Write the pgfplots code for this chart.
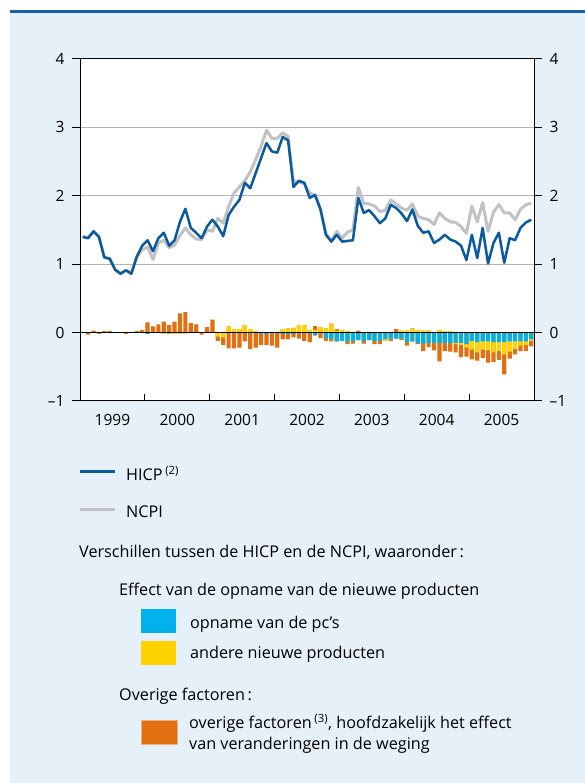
\documentclass[border=0pt]{standalone}
\usepackage{pgfplots}
\pgfplotsset{compat=1.18}
\usepackage{pgfplotstable}
\usepackage{fontspec}
\setmainfont{Open Sans}
\definecolor{bgblue}{HTML}{E6F0F8}
\definecolor{topblue}{HTML}{1B5EA6}
\definecolor{hicp}{HTML}{0B5A9E}
\definecolor{ncpi}{HTML}{C2C2C6}
\definecolor{pcblue}{HTML}{00B1EC}
\definecolor{newyel}{HTML}{FFD300}
\definecolor{othor}{HTML}{E07010}
\definecolor{gridc}{HTML}{B4B4B4}

\pgfplotstableread{
m H N b y o
0 1.40 1.40 0 0 0
1 1.38 1.39 0 0 -0.03
2 1.48 1.48 0 0 0.03
3 1.40 1.40 0 0 -0.02
4 1.10 1.10 0 0 0.02
5 1.08 1.08 0 0 0.02
6 0.92 0.92 0 0 0
7 0.86 0.87 0 0 0
8 0.91 0.91 0 0 -0.02
9 0.86 0.87 0 0 0.01
10 1.11 1.10 0 0 0.02
11 1.27 1.21 0 0 0.04
12 1.35 1.25 -0.02 0 0.15
13 1.19 1.07 0 0 0.09
14 1.38 1.31 0 0 0.12
15 1.46 1.35 0 -0.02 0.16
16 1.27 1.24 -0.01 -0.01 0.11
17 1.35 1.28 0 -0.02 0.16
18 1.62 1.42 0 -0.02 0.28
19 1.81 1.53 0 -0.01 0.30
20 1.53 1.43 0 0 0.14
21 1.46 1.37 0 0 0.12
22 1.38 1.36 0 0 -0.03
23 1.55 1.50 0 0 0.08
24 1.65 1.48 0 0 0.19
25 1.55 1.67 0 -0.06 -0.06
26 1.41 1.60 0 -0.07 -0.11
27 1.72 1.84 0 0.09 -0.23
28 1.84 2.04 0 0.05 -0.23
29 1.94 2.13 0 0.05 -0.22
30 2.19 2.22 0 0.11 -0.13
31 2.11 2.35 0 0.05 -0.24
32 2.33 2.53 0 0.02 -0.22
33 2.55 2.72 -0.02 0 -0.16
34 2.77 2.96 -0.02 0 -0.16
35 2.65 2.84 -0.01 0 -0.18
36 2.63 2.84 0 0.01 -0.22
37 2.86 2.92 -0.02 0.05 -0.08
38 2.81 2.87 -0.02 0.06 -0.08
39 2.13 2.21 -0.02 0.07 -0.05
40 2.22 2.20 0 0.11 -0.09
41 2.19 2.18 0 0.11 -0.12
42 1.97 2.04 -0.02 0.04 -0.12
43 2.01 2.01 -0.04 0.04 0.06
44 1.80 1.80 0 0.08 -0.08
45 1.43 1.45 -0.08 0.06 -0.04
46 1.33 1.34 -0.10 0.13 -0.03
47 1.43 1.48 -0.13 0.03 0.02
48 1.33 1.38 -0.12 0.04 0
49 1.34 1.47 -0.13 0.02 -0.04
50 1.35 1.50 -0.12 0 -0.04
51 1.97 2.12 -0.11 0 0.03
52 1.75 1.89 -0.12 0 -0.04
53 1.79 1.88 -0.11 0.01 0
54 1.70 1.85 -0.12 0 -0.05
55 1.60 1.77 -0.12 0 -0.05
56 1.67 1.79 -0.10 -0.02 0
57 1.87 1.94 -0.09 0.01 -0.03
58 1.82 1.88 -0.09 0 0.05
59 1.74 1.82 -0.09 0.03 -0.02
60 1.63 1.79 -0.14 0.03 -0.05
61 1.80 1.88 -0.13 0.06 0
62 1.56 1.70 -0.15 0.04 -0.02
63 1.46 1.67 -0.17 0.03 -0.10
64 1.48 1.65 -0.15 0.03 -0.06
65 1.31 1.58 -0.15 0 -0.11
66 1.36 1.75 -0.15 0.04 -0.27
67 1.43 1.67 -0.15 0.02 -0.12
68 1.36 1.62 -0.15 0.02 -0.13
69 1.33 1.61 -0.15 -0.02 -0.12
70 1.27 1.55 -0.15 -0.03 -0.18
71 1.06 1.45 -0.17 -0.05 -0.13
72 1.43 1.85 -0.12 -0.13 -0.14
73 1.09 1.62 -0.14 -0.15 -0.12
74 1.53 1.90 -0.13 -0.12 -0.12
75 1.01 1.48 -0.13 -0.13 -0.18
76 1.31 1.76 -0.14 -0.15 -0.14
77 1.46 1.87 -0.14 -0.13 -0.13
78 1.02 1.75 -0.14 -0.18 -0.29
79 1.38 1.75 -0.13 -0.15 -0.10
80 1.35 1.65 -0.13 -0.11 -0.08
81 1.53 1.80 -0.13 -0.06 -0.08
82 1.61 1.87 -0.13 -0.05 -0.09
83 1.65 1.89 -0.10 -0.02 -0.08
}\data

\pgfplotsset{
  base/.style={
    at={(80pt,382pt)}, anchor=south west,
    width=454pt, height=342pt, scale only axis,
    xmin=0, xmax=84, ymin=-1, ymax=4,
    tick label style={font=\fontsize{15.5}{18}\selectfont},
  },
  bars/.style={ybar, bar width=4.2pt, bar shift=0pt, draw=none, fill=#1},
}

\begin{document}
\fontsize{16.2}{20}\selectfont
\begin{tikzpicture}
\useasboundingbox (0pt,0pt) rectangle (585pt,783pt);
\fill[white] (0pt,0pt) rectangle (585pt,783pt);
\fill[bgblue] (10pt,0pt) rectangle (585pt,770pt);
\fill[topblue] (10pt,770pt) rectangle (585pt,772.5pt);

\begin{axis}[base,
  axis background/.style={fill=white},
  axis line style={black, line width=1pt},
  tick align=inside, xtick pos=lower,
  xtick={12,24,36,48,60,72}, xticklabels={},
  major tick length=7pt,
  xtick style={black, line width=1pt},
  extra x ticks={6,18,30,42,54,66,78},
  extra x tick labels={1999,2000,2001,2002,2003,2004,2005},
  extra x tick style={major tick length=0pt, xticklabel style={yshift=-8pt}},
  ytick={-1,0,1,2,3,4}, yticklabels={}, ytick style={draw=none},
  ymajorgrids, grid style={gridc, line width=1pt},
]
\addplot[bars=othor] table[x expr=\thisrow{m}+0.5, y expr={min(\thisrow{b},0)+min(\thisrow{y},0)+min(\thisrow{o},0)}] {\data};
\addplot[bars=newyel] table[x expr=\thisrow{m}+0.5, y expr={min(\thisrow{b},0)+min(\thisrow{y},0)}] {\data};
\addplot[bars=pcblue] table[x expr=\thisrow{m}+0.5, y expr={min(\thisrow{b},0)}] {\data};
\addplot[bars=othor] table[x expr=\thisrow{m}+0.5, y expr={max(\thisrow{b},0)+max(\thisrow{y},0)+max(\thisrow{o},0)}] {\data};
\addplot[bars=newyel] table[x expr=\thisrow{m}+0.5, y expr={max(\thisrow{b},0)+max(\thisrow{y},0)}] {\data};
\addplot[bars=pcblue] table[x expr=\thisrow{m}+0.5, y expr={max(\thisrow{b},0)}] {\data};
\draw[black, line width=1.1pt] (axis cs:0,0) -- (axis cs:84,0);
\addplot[ncpi, line width=3pt, line join=round] table[x expr=\thisrow{m}+0.5, y=N] {\data};
\addplot[hicp, line width=2.5pt, line join=round] table[x expr=\thisrow{m}+0.5, y=H] {\data};
\end{axis}

\begin{axis}[base, hide x axis, axis line style={draw=none},
  tick align=outside, ytick pos=left, major tick length=8pt,
  ytick style={black, line width=1pt},
  ytick={-1,0,1,2,3,4}, yticklabels={--1,0,1,2,3,4},
  yticklabel style={xshift=-2pt}]
\end{axis}

\begin{axis}[base, hide x axis, axis line style={draw=none},
  tick align=outside, ytick pos=right, yticklabel pos=right, major tick length=8pt,
  ytick style={black, line width=1pt},
  ytick={-1,0,1,2,3,4}, yticklabels={--1,0,1,2,3,4},
  yticklabel style={xshift=2pt}]
\end{axis}

% legend
\draw[hicp, line width=3pt] (80pt,311pt) -- (115pt,311pt);
\node[anchor=base west, inner sep=0pt] at (126pt,302.3pt) {HICP\,\textsuperscript{(2)}};
\draw[ncpi, line width=3pt] (80pt,273.7pt) -- (115pt,273.7pt);
\node[anchor=base west, inner sep=0pt] at (126pt,265.7pt) {NCPI};
\node[anchor=base west, inner sep=0pt] at (79pt,225.7pt) {Verschillen tussen de HICP en de NCPI, waaronder\,:};
\node[anchor=base west, inner sep=0pt] at (119pt,187.7pt) {Effect van de opname van de nieuwe producten};
\fill[pcblue] (141pt,150pt) rectangle (176pt,174pt);
\node[anchor=base west, inner sep=0pt] at (190pt,154.7pt) {opname van de pc’s};
\fill[newyel] (141pt,118.3pt) rectangle (176pt,142pt);
\node[anchor=base west, inner sep=0pt] at (190pt,124pt) {andere nieuwe producten};
\node[anchor=base west, inner sep=0pt] at (119pt,82pt) {Overige factoren\,:};
\filldraw[fill=othor, draw=othor!55!white, line width=0.8pt] (141pt,39pt) rectangle (177pt,62.3pt);
\node[anchor=base west, inner sep=0pt] at (189pt,54.7pt) {overige factoren\,\textsuperscript{(3)}, hoofdzakelijk het effect};
\node[anchor=base west, inner sep=0pt] at (189pt,33pt) {van veranderingen in de weging};
\end{tikzpicture}
\end{document}
